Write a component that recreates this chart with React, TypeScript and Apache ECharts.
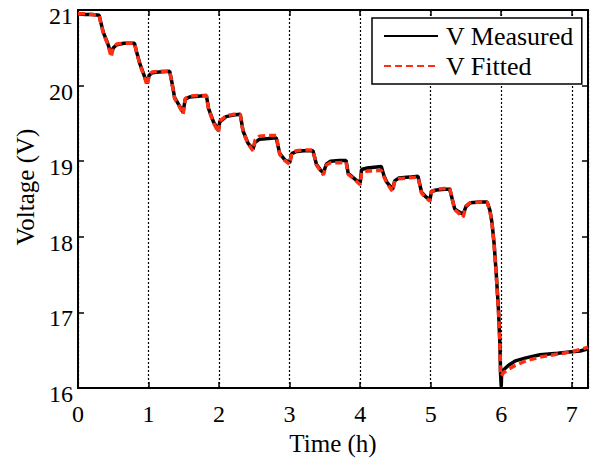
import React, { useEffect, useRef } from "react";
import * as echarts from "echarts";

const timeH = [
  0, 0.1, 0.2, 0.3,
  0.32, 0.36, 0.42, 0.47, 0.5, 0.55, 0.65, 0.8,
  0.83, 0.88, 0.94, 0.98, 1.01, 1.05, 1.15, 1.3,
  1.33, 1.37, 1.44, 1.49, 1.52, 1.58, 1.7, 1.82,
  1.85, 1.92, 1.99, 2.01, 2.1, 2.2, 2.3,
  2.34, 2.41, 2.48, 2.51, 2.57, 2.7, 2.81,
  2.86, 2.93, 3.0, 3.03, 3.1, 3.2, 3.33,
  3.38, 3.44, 3.48, 3.52, 3.58, 3.7, 3.8,
  3.83, 3.93, 4.0, 4.02, 4.1, 4.2, 4.3,
  4.34, 4.38, 4.46, 4.49, 4.55, 4.7, 4.82,
  4.87, 4.93, 4.99, 5.01, 5.08, 5.2, 5.27,
  5.34, 5.4, 5.46, 5.5, 5.56, 5.7, 5.8,
  5.84, 5.87, 5.9, 5.93, 5.96, 5.98, 5.99, 6.0, 6.005, 6.03, 6.1, 6.2, 6.35, 6.55, 6.8, 7.0, 7.12, 7.23,
];

const vMeasured = [
  20.95, 20.94, 20.94, 20.93,
  20.85, 20.7, 20.56, 20.42, 20.5, 20.54, 20.56, 20.56,
  20.45, 20.28, 20.13, 20.03, 20.14, 20.17, 20.18, 20.19,
  20.05, 19.84, 19.73, 19.65, 19.82, 19.85, 19.86, 19.87,
  19.7, 19.52, 19.41, 19.52, 19.59, 19.61, 19.62,
  19.4, 19.24, 19.16, 19.25, 19.29, 19.3, 19.31,
  19.1, 19.02, 18.98, 19.1, 19.13, 19.14, 19.14,
  18.96, 18.88, 18.85, 18.96, 19.0, 19.01, 19.01,
  18.84, 18.76, 18.71, 18.89, 18.91, 18.92, 18.93,
  18.8, 18.72, 18.63, 18.74, 18.78, 18.79, 18.8,
  18.59, 18.53, 18.49, 18.6, 18.62, 18.63, 18.63,
  18.37, 18.33, 18.3, 18.4, 18.45, 18.46, 18.46,
  18.35, 18.18, 17.9, 17.5, 17.05, 16.62, 16.2, 16.02, 16.18, 16.24, 16.3, 16.36, 16.4, 16.44, 16.46, 16.48, 16.49, 16.52,
];

const vFitted = [
  20.95, 20.95, 20.94, 20.93,
  20.84, 20.69, 20.55, 20.38, 20.5, 20.55, 20.56, 20.56,
  20.44, 20.27, 20.12, 20.0, 20.15, 20.18, 20.19, 20.19,
  20.04, 19.83, 19.72, 19.62, 19.83, 19.86, 19.87, 19.87,
  19.69, 19.51, 19.38, 19.53, 19.6, 19.62, 19.62,
  19.39, 19.23, 19.14, 19.28, 19.33, 19.34, 19.34,
  19.09, 19.01, 18.96, 19.11, 19.14, 19.15, 19.15,
  18.95, 18.87, 18.82, 18.95, 18.98, 18.98, 18.99,
  18.83, 18.75, 18.69, 18.85, 18.87, 18.87, 18.88,
  18.79, 18.71, 18.6, 18.74, 18.77, 18.78, 18.79,
  18.58, 18.52, 18.47, 18.6, 18.63, 18.64, 18.64,
  18.36, 18.31, 18.26, 18.41, 18.45, 18.46, 18.46,
  18.34, 18.17, 17.88, 17.48, 17.03, 16.6, 16.2, 16.16, 16.16, 16.2, 16.25, 16.3, 16.36, 16.41, 16.45, 16.48, 16.51, 16.54,
];

const xTicks = [0, 1, 2, 3, 4, 5, 6, 7];
const yTicks = [16, 17, 18, 19, 20, 21];

const FONT = "Liberation Serif";

export default function App() {
  const ref = useRef<HTMLDivElement>(null);
  useEffect(() => {
    document.body.style.margin = "0";
    const chart = echarts.init(ref.current!, null, { renderer: "svg" });
    const measured = timeH.map((t, i) => [t, vMeasured[i]]);
    const fitted = timeH.map((t, i) => [t, vFitted[i]]);
    const tickFmt = (v: number) => (xTicks.includes(v) ? String(v) : "");
    const yFmt = (v: number) => (yTicks.includes(v) ? String(v) : "");
    const axisLine = { show: true, onZero: false, lineStyle: { color: "#000", width: 2 } };
    const axisTick = { show: true, inside: true, length: 6, lineStyle: { color: "#000", width: 1.5 } };
    const txt = { fontFamily: FONT, fontSize: 24, color: "#000", fontWeight: "normal" as const };
    chart.setOption({
      animation: false,
      backgroundColor: "#fff",
      textStyle: { fontFamily: FONT },
      grid: { left: 78, right: 4, top: 10, bottom: 67, containLabel: false },
      legend: {
        left: 372,
        top: 18,
        orient: "vertical",
        backgroundColor: "#fff",
        borderColor: "#000",
        borderWidth: 1.5,
        borderRadius: 0,
        padding: [5, 8, 5, 11],
        itemWidth: 54,
        itemHeight: 14,
        itemGap: 4,
        itemStyle: { opacity: 0 },
        textStyle: { ...txt, fontSize: 26, padding: [0, 0, 0, 3] },
        data: ["V Measured", "V Fitted"],
      },
      xAxis: [
        {
          type: "value",
          position: "bottom",
          min: 0,
          max: 7.23,
          interval: 1,
          axisLine,
          axisTick,
          axisLabel: { ...txt, formatter: tickFmt, margin: 14 },
          splitLine: { show: true, lineStyle: { color: "#000", width: 1.2, type: [2, 2] } },
          name: "Time (h)",
          nameLocation: "middle",
          nameGap: 40,
          nameTextStyle: { ...txt, fontSize: 25 },
        },
        {
          type: "value",
          position: "top",
          min: 0,
          max: 7.23,
          interval: 1,
          axisLine,
          axisTick,
          axisLabel: { show: false },
          splitLine: { show: false },
        },
      ],
      yAxis: [
        {
          type: "value",
          position: "left",
          min: 16,
          max: 21,
          interval: 1,
          axisLine,
          axisTick,
          axisLabel: { ...txt, formatter: yFmt, margin: 5, verticalAlign: "top", lineHeight: 12 },
          splitLine: { show: false },
          name: "Voltage (V)",
          nameLocation: "middle",
          nameGap: 40,
          nameTextStyle: { ...txt, fontSize: 25, padding: [0, 0, 0, 24] },
        },
        {
          type: "value",
          position: "right",
          min: 16,
          max: 21,
          interval: 1,
          axisLine,
          axisTick,
          axisLabel: { show: false },
          splitLine: { show: false },
        },
      ],
      series: [
        {
          name: "V Measured",
          type: "line",
          data: measured,
          symbol: "none",
          lineStyle: { color: "#000", width: 3.5 },
          itemStyle: { color: "#000" },
          z: 2,
        },
        {
          name: "V Fitted",
          type: "line",
          data: fitted,
          symbol: "none",
          lineStyle: { color: "#ff2d12", width: 3.5, type: [7, 4] },
          itemStyle: { color: "#ff2d12" },
          z: 3,
        },
      ],
    });
    return () => chart.dispose();
  }, []);
  return <div ref={ref} style={{ width: 592, height: 461 }} />;
}
